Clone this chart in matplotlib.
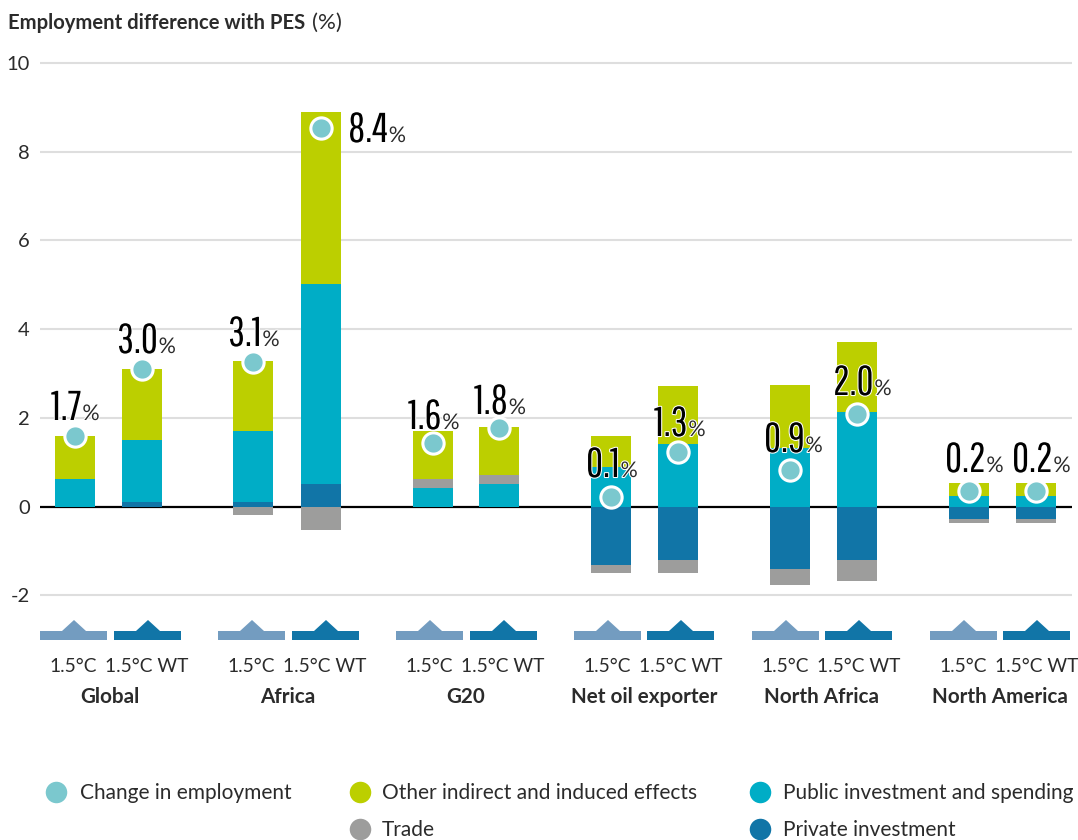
import numpy as np
import matplotlib
matplotlib.use('Agg')
import matplotlib.pyplot as plt
from matplotlib.patches import Polygon, Rectangle
import matplotlib.patheffects as pe
import logging

logging.getLogger('matplotlib.font_manager').setLevel(logging.ERROR)

groups = ['Global', 'Africa', 'G20', 'Net oil exporter', 'North Africa', 'North America']
scenarios = ['1.5°C', '1.5°C WT']

# values per bar: group order, 1.5C then WT
private_inv = [0, 0.11, 0.11, 0.50, 0, 0, -1.31, -1.20, -1.40, -1.20, -0.29, -0.29]
public_inv = [0.61, 1.40, 1.59, 4.52, 0.41, 0.50, 0.90, 1.42, 1.31, 2.12, 0.23, 0.23]
trade = [0, 0, -0.20, -0.52, 0.20, 0.20, -0.20, -0.29, -0.38, -0.49, -0.09, -0.09]
other = [0.98, 1.58, 1.57, 3.88, 1.09, 1.10, 0.70, 1.29, 1.42, 1.58, 0.29, 0.29]
change = [1.60, 3.11, 3.25, 8.53, 1.43, 1.77, 0.21, 1.22, 0.83, 2.08, 0.36, 0.36]
labels = ['1.7', '3.0', '3.1', '8.4', '1.6', '1.8', '0.1', '1.3', '0.9', '2.0', '0.2', '0.2']

y_ticks = [-2, 0, 2, 4, 6, 8, 10]

# layout, in pixels of the 1078x840 picture
bar_x = [75, 142, 253, 321, 433, 499, 611, 678, 790, 857, 969, 1036]
label_left = [51, 117, 228, 348, 408, 474, 586, 654, 764, 833, 945, 1012]
label_base = [420, 353, 346, 142, 429, 414, 477, 436, 452, 395, 472, 472]
icon_left = [40, 114, 218, 292, 396, 470, 574, 647, 752, 825, 930, 1003]
scen_x = [73, 147, 251, 325, 429, 503, 607, 681, 785, 859, 963, 1037]
group_x = [110, 288, 466, 644, 822, 1000]

c_other = '#BCCF00'
c_public = '#00ADC6'
c_trade = '#9D9D9C'
c_private = '#1175A7'
c_change = '#7BC8CE'
c_icon = ['#739CC0', '#1175A7']
c_text = '#2B2B2B'
body = ['Lato', 'DejaVu Sans']
narrow = ['Pathway Gothic One', 'Liberation Sans', 'DejaVu Sans']

W, H = 1078, 840
PX_PER_UNIT = 44.35
ZERO_PX = 506.5


def py(px):
    # pixel row to data value
    return (ZERO_PX - px) / PX_PER_UNIT


fig = plt.figure(figsize=(W / 100, H / 100), dpi=100)
ax = fig.add_axes([0, 0, 1, 1])
ax.set_xlim(0, W)
ax.set_ylim(py(H), py(0))
ax.axis('off')

for t in y_ticks:
    if t == 0:
        ax.plot([40, 1072], [0, 0], color='black', lw=1.6, zorder=1, solid_capstyle='butt')
    else:
        ax.plot([40, 1072], [t, t], color='#DEDEDE', lw=1.5, zorder=1, solid_capstyle='butt')
    ax.text(30, t, str(t), ha='right', va='center_baseline', fontsize=14.5, family=body, color=c_text)

# stacked bars, positive and negative parts pile up separately
pos = np.zeros(len(bar_x))
neg = np.zeros(len(bar_x))
for vals, col in [(private_inv, c_private), (public_inv, c_public), (trade, c_trade), (other, c_other)]:
    vals = np.array(vals)
    bottom = np.where(vals >= 0, pos, neg)
    ax.bar(bar_x, vals, width=40, bottom=bottom, color=col, zorder=2, linewidth=0)
    pos += np.where(vals >= 0, vals, 0)
    neg += np.where(vals < 0, vals, 0)

ax.scatter(bar_x, change, s=235, color=c_change, edgecolor='white', linewidth=2.2, zorder=3)

fig.canvas.draw()
renderer = fig.canvas.get_renderer()
outline = [pe.withStroke(linewidth=1.5, foreground='white')]
for lab, lx, base in zip(labels, label_left, label_base):
    t = ax.text(lx, py(base), lab, ha='left', va='baseline', fontsize=30, family=narrow,
                color='black', zorder=4, path_effects=outline)
    x1 = t.get_window_extent(renderer).x1
    ax.text(x1 + 1, py(base), '%', ha='left', va='baseline', fontsize=15.5, family=body,
            color=c_text, zorder=4, path_effects=outline)

# scenario icons
for i, lx in enumerate(icon_left):
    col = c_icon[i % 2]
    ax.add_patch(Rectangle((lx, py(640)), 67, py(631) - py(640), color=col, lw=0, zorder=2))
    mid = lx + 34
    ax.add_patch(Polygon([(mid - 12, py(631)), (mid, py(620)), (mid + 12, py(631))], color=col, lw=0, zorder=2))
    ax.text(scen_x[i], py(667), scenarios[i % 2], ha='center', va='center', fontsize=13.8,
            family=body, color=c_text)

for g, gx in zip(groups, group_x):
    ax.text(gx, py(697), g, ha='center', va='center', fontsize=14.9, family=body, weight='bold', color=c_text)

# title
t = ax.text(8, py(21), 'Employment difference with PES', ha='left', va='center_baseline', fontsize=14.6,
            family=body, weight='bold', color=c_text)
x1 = t.get_window_extent(renderer).x1
ax.text(x1 + 7, py(21), '(%)', ha='left', va='center_baseline', fontsize=16, family=body, color=c_text)

# legend
leg = [('Change in employment', c_change, 56, 792, 80),
       ('Other indirect and induced effects', c_other, 360, 792, 382),
       ('Public investment and spending', c_public, 760, 792, 783),
       ('Trade', c_trade, 360, 829, 382),
       ('Private investment', c_private, 760, 829, 783)]
for name, col, mx, my, tx in leg:
    ax.scatter([mx], [py(my)], s=240, color=col, linewidth=0, zorder=3, clip_on=True)
    ax.text(tx, py(my + 1), name, ha='left', va='center', fontsize=15, family=body, color=c_text)

fig.savefig('out.png', dpi=100)
